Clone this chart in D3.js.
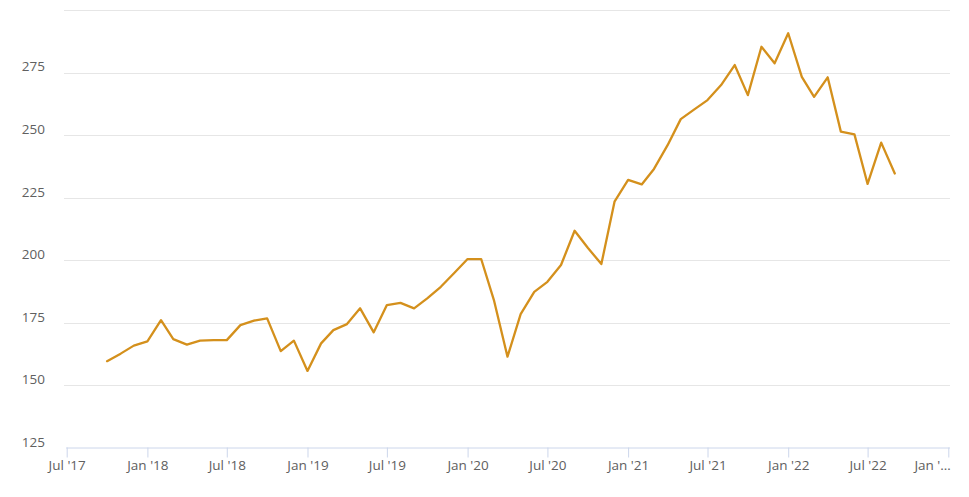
<!DOCTYPE html>
<html>
<head>
<meta charset="utf-8">
<script src="https://cdn.jsdelivr.net/npm/d3@7"></script>
<style>
  html, body { margin: 0; padding: 0; background: #fff; }
  svg { display: block; }
  .tick text { font-family: "Open Sans", sans-serif; fill: #606060; }
</style>
</head>
<body>
<svg id="chart" width="969" height="497"></svg>
<script>
// Monthly series, Oct 2017 – Sep 2022
const startMonth = "2017-10-01";
const values = [
  159.7, 162.7, 165.9, 167.6, 176.1, 168.5, 166.3, 167.9, 168.1, 168.1,
  174.1, 175.9, 176.8, 163.7, 167.9, 155.8, 166.8, 172.1, 174.5, 180.8,
  171.2, 182.1, 183.0, 180.8, 184.8, 189.4, 194.8, 200.5, 200.5, 184.1,
  161.5, 178.5, 187.4, 191.4, 198.1, 211.8, 205.0, 198.5, 223.4, 232.1,
  230.3, 236.5, 246.0, 256.4, 260.3, 264.0, 270.0, 278.0, 266.0, 285.3,
  278.7, 290.7, 273.3, 265.3, 273.1, 251.4, 250.3, 230.5, 247.0, 234.7
];
const yTickValues = [125, 150, 175, 200, 225, 250, 275];
const yGridValues = [150, 175, 200, 225, 250, 275, 300];
const xTickDates = ["2017-07-01","2018-01-01","2018-07-01","2019-01-01","2019-07-01",
  "2020-01-01","2020-07-01","2021-01-01","2021-07-01","2022-01-01","2022-07-01","2023-01-01"];
const xTickLabels = ["Jul '17","Jan '18","Jul '18","Jan '19","Jul '19","Jan '20",
  "Jul '20","Jan '21","Jul '21","Jan '22","Jul '22","Jan '…"];
const xDomain = ["2017-07-01", "2023-01-01"];
const yDomain = [125, 300];

(function () {
const parse = d3.utcParse("%Y-%m-%d");
const start = parse(startMonth);
const data = values.map((v, i) => ({ date: d3.utcMonth.offset(start, i), value: v }));
const tickDates = xTickDates.map(parse);

const svg = d3.select("#chart");
const mLeft = 66.7, mRight = 948.3, mTop = 10, mBottom = 448;

const x = d3.scaleUtc().domain(xDomain.map(parse)).range([mLeft, mRight]);
const y = d3.scaleLinear().domain(yDomain).range([mBottom, mTop]);

// gridlines
svg.append("g")
  .selectAll("line")
  .data(yGridValues)
  .join("line")
  .attr("x1", 64).attr("x2", 950)
  .attr("y1", d => Math.round(y(d)) + 0.5).attr("y2", d => Math.round(y(d)) + 0.5)
  .attr("stroke", "#e6e6e6").attr("stroke-width", 1);

// y axis labels
const yAxis = d3.axisLeft(y).tickValues(yTickValues).tickSize(0).tickPadding(0).tickFormat(d3.format("d"));
svg.append("g")
  .attr("transform", "translate(45,0)")
  .call(yAxis)
  .call(g => g.select(".domain").remove())
  .call(g => g.selectAll("text").attr("font-size", 13.5).attr("dy", "0.32em").attr("y", -6));

// x axis
const labelMap = new Map(tickDates.map((d, i) => [+d, xTickLabels[i]]));
const xAxis = d3.axisBottom(x).tickValues(tickDates).tickSize(10).tickPadding(3)
  .tickFormat(d => labelMap.get(+d));
const gx = svg.append("g")
  .attr("transform", `translate(0,${mBottom - 0.5})`)
  .call(xAxis);
gx.select(".domain").attr("stroke", "#ccd6eb").attr("d", `M${mLeft - 0.5},0.5H950`);
gx.selectAll(".tick line").attr("stroke", "#ccd6eb");
gx.selectAll(".tick text").attr("font-size", 13.5);
gx.selectAll(".tick").filter((d, i) => i === tickDates.length - 1)
  .select("text").attr("text-anchor", "end").attr("x", 2);

// line
const line = d3.line().x(d => x(d.date)).y(d => y(d.value));
svg.append("path")
  .datum(data)
  .attr("fill", "none")
  .attr("stroke", "#d4901c")
  .attr("stroke-width", 2.3)
  .attr("stroke-linejoin", "round")
  .attr("stroke-linecap", "round")
  .attr("d", line);
})();
</script>
</body>
</html>
